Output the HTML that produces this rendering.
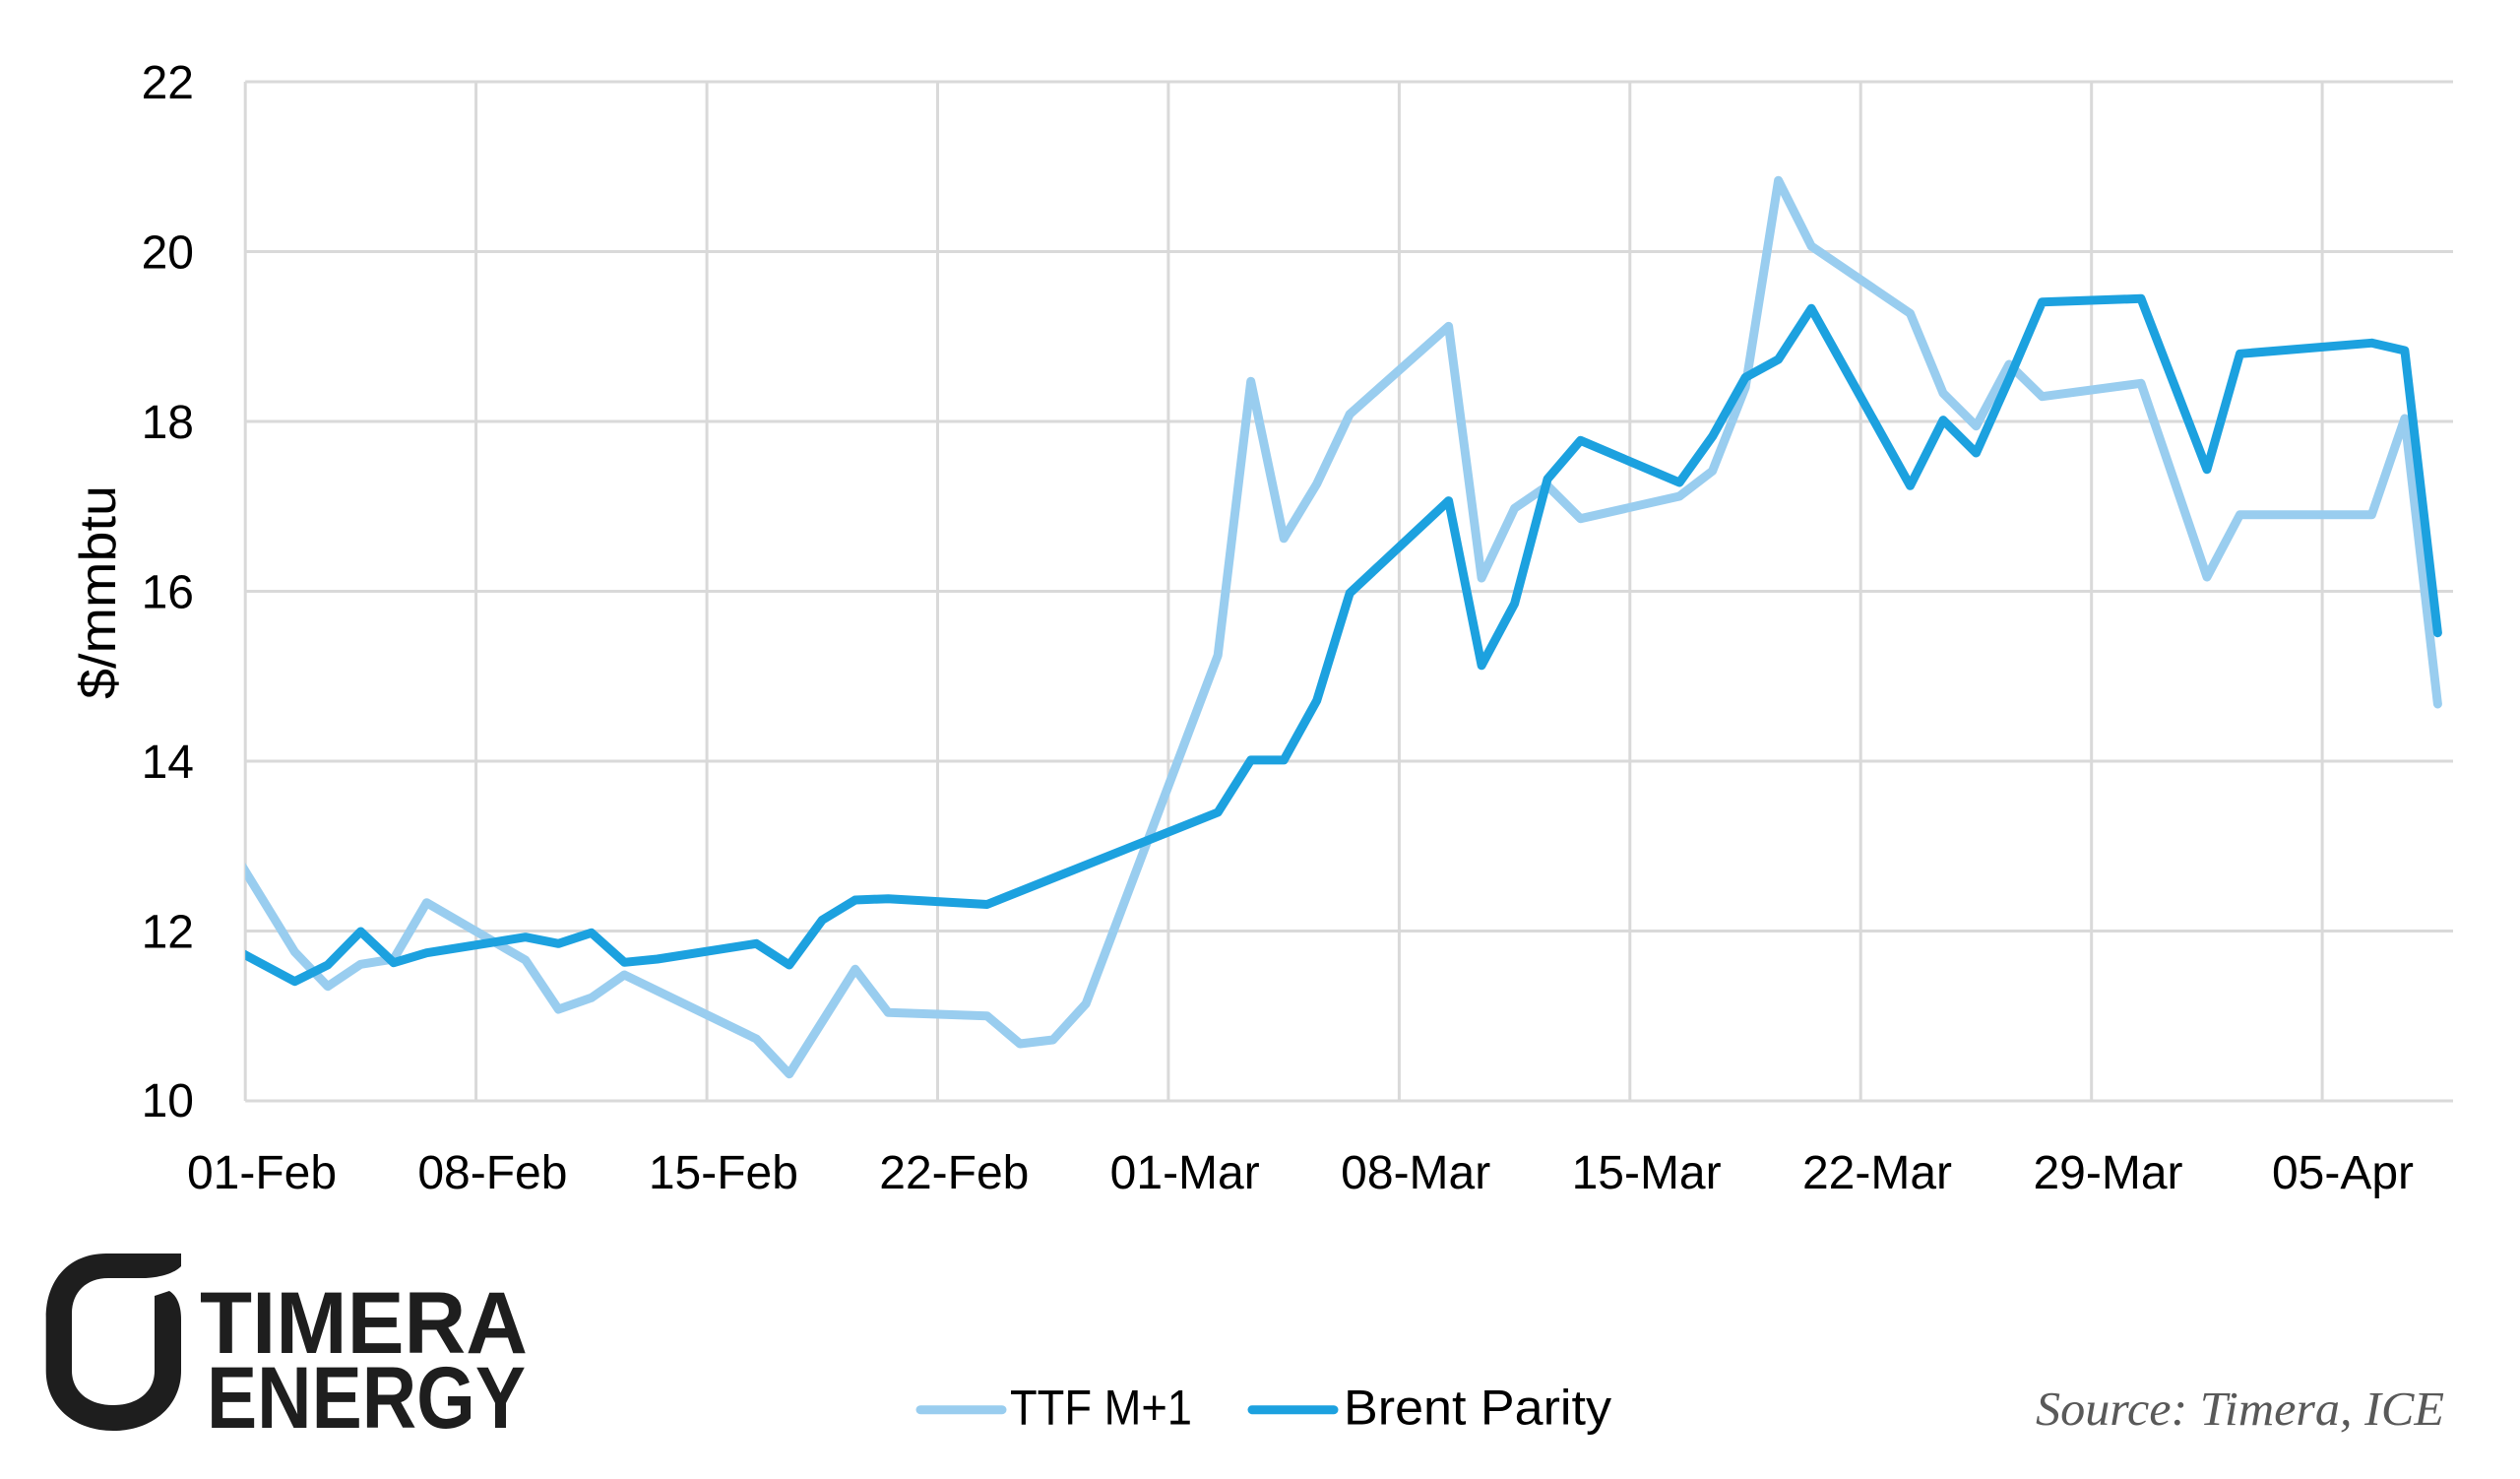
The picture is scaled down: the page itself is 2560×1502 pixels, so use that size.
<!DOCTYPE html>
<html>
<head>
<meta charset="utf-8">
<style>
  html, body { margin: 0; padding: 0; background: #ffffff; }
  body { width: 2560px; height: 1502px; overflow: hidden; }
  svg { display: block; }
</style>
</head>
<body>
<svg width="2560" height="1502" viewBox="0 0 2560 1502" xmlns="http://www.w3.org/2000/svg">
  <rect x="0" y="0" width="2560" height="1502" fill="#ffffff"/>
  <defs>
    <clipPath id="plot">
      <rect x="249.2" y="0" width="2300" height="1200"/>
    </clipPath>
  </defs>

  <!-- horizontal gridlines -->
  <g stroke="#d9d9d9" stroke-width="3" fill="none">
    <line x1="249.2" y1="83" x2="2492" y2="83"/>
    <line x1="249.2" y1="255.5" x2="2492" y2="255.5"/>
    <line x1="249.2" y1="428" x2="2492" y2="428"/>
    <line x1="249.2" y1="600.5" x2="2492" y2="600.5"/>
    <line x1="249.2" y1="773" x2="2492" y2="773"/>
    <line x1="249.2" y1="945.5" x2="2492" y2="945.5"/>
    <line x1="249.2" y1="1118" x2="2492" y2="1118"/>
    <!-- vertical gridlines -->
    <line x1="249.2" y1="83" x2="249.2" y2="1118"/>
    <line x1="483.6" y1="83" x2="483.6" y2="1118"/>
    <line x1="718.1" y1="83" x2="718.1" y2="1118"/>
    <line x1="952.5" y1="83" x2="952.5" y2="1118"/>
    <line x1="1186.9" y1="83" x2="1186.9" y2="1118"/>
    <line x1="1421.4" y1="83" x2="1421.4" y2="1118"/>
    <line x1="1655.8" y1="83" x2="1655.8" y2="1118"/>
    <line x1="1890.2" y1="83" x2="1890.2" y2="1118"/>
    <line x1="2124.7" y1="83" x2="2124.7" y2="1118"/>
    <line x1="2359.1" y1="83" x2="2359.1" y2="1118"/>
  </g>

  <!-- series -->
  <g clip-path="url(#plot)" fill="none" stroke-width="9" stroke-linejoin="round" stroke-linecap="round">
    <polyline stroke="#99CDEF" points="199,803 299.4,966.7 332.9,1001.7 366.4,979.3 399.9,974 433.4,916.7 533.8,975 567.3,1025 600.8,1013.3 634.3,990 768.3,1055 801.8,1090.7 868.8,984.3 902.3,1028.3 1002.7,1031.7 1036.2,1060 1069.7,1056 1103.2,1019.3 1237.2,665.5 1270.7,387.3 1304.2,546.8 1337.7,491.4 1371.2,420.6 1471.6,331.4 1505.1,587 1538.6,516.2 1572.1,493.3 1605.6,526.7 1706.1,504 1739.6,478.3 1773.1,393.3 1806.6,183.3 1840.1,250 1940.5,318.3 1974,399.3 2007.5,432.7 2041,370 2074.5,402.7 2175,389.3 2242,586 2275.5,522.7 2409.4,522.7 2442.9,425 2476.4,715"/>
    <polyline stroke="#1CA1DF" points="199,943 299.4,996.7 332.9,980 366.4,946 399.9,977.7 433.4,967.7 533.8,951.7 567.3,958.3 600.8,947.3 634.3,977.3 667.8,974 768.3,958.3 801.8,980 835.3,934.3 868.8,914 902.3,912.7 1002.7,918.5 1237.2,825 1270.7,771.9 1304.2,771.9 1337.7,711.4 1371.2,602.3 1471.6,508.6 1505.1,675.8 1538.6,613 1572.1,486.4 1605.6,447.3 1706.1,490 1739.6,443.3 1773.1,383.3 1806.6,365 1840.1,313.3 1940.5,493.3 1974,426.7 2007.5,460 2041,385 2074.5,306.7 2175,303.3 2242,476.7 2275.5,359.3 2409.4,348.3 2442.9,356 2476.4,642.7"/>
  </g>

  <!-- y tick labels -->
  <g font-family="'Liberation Sans', sans-serif" font-size="48" fill="#000000" text-anchor="end">
    <text x="197" y="100">22</text>
    <text x="197" y="272.5">20</text>
    <text x="197" y="445">18</text>
    <text x="197" y="617.5">16</text>
    <text x="197" y="790">14</text>
    <text x="197" y="962.5">12</text>
    <text x="197" y="1134">10</text>
  </g>

  <!-- y axis title -->
  <text transform="translate(117,601.5) rotate(-90)" text-anchor="middle" font-family="'Liberation Sans', sans-serif" font-size="52" fill="#000000" textLength="217" lengthAdjust="spacingAndGlyphs">$/mmbtu</text>

  <!-- x tick labels -->
  <g font-family="'Liberation Sans', sans-serif" font-size="48" fill="#000000" text-anchor="middle">
    <text x="266" y="1207">01-Feb</text>
    <text x="500.4" y="1207">08-Feb</text>
    <text x="734.9" y="1207">15-Feb</text>
    <text x="969.3" y="1207">22-Feb</text>
    <text x="1203.7" y="1207">01-Mar</text>
    <text x="1438.2" y="1207">08-Mar</text>
    <text x="1672.6" y="1207">15-Mar</text>
    <text x="1907" y="1207">22-Mar</text>
    <text x="2141.5" y="1207">29-Mar</text>
    <text x="2380" y="1207">05-Apr</text>
  </g>

  <!-- legend -->
  <line x1="935" y1="1431.7" x2="1018" y2="1431.7" stroke="#99CDEF" stroke-width="9" stroke-linecap="round"/>
  <text x="1026" y="1446.7" font-family="'Liberation Sans', sans-serif" font-size="50" fill="#000000" textLength="185" lengthAdjust="spacingAndGlyphs">TTF M+1</text>
  <line x1="1272" y1="1431.7" x2="1355" y2="1431.7" stroke="#1CA1DF" stroke-width="9" stroke-linecap="round"/>
  <text x="1365" y="1446.7" font-family="'Liberation Sans', sans-serif" font-size="50" fill="#000000" textLength="272" lengthAdjust="spacingAndGlyphs">Brent Parity</text>

  <!-- source -->
  <text x="2068" y="1447" font-family="'Liberation Serif', serif" font-style="italic" font-size="49" fill="#595959" textLength="415" lengthAdjust="spacingAndGlyphs">Source: Timera, ICE</text>

  <!-- logo -->
  <path fill="#1e1e1e" d="M 184 1273 L 108 1273 C 70 1273 46.7 1300 46.7 1338 L 46.7 1392 C 46.7 1428 75 1453 115 1453 C 155 1453 184 1428 184 1392 L 184 1340 C 184 1326 180 1316 172 1311 L 157 1316 L 157 1392 C 157 1413 140 1427 115 1427 C 90 1427 73 1413 73 1392 L 73 1334 C 73 1312 88 1298 110 1298 L 148 1298 C 164 1297 177 1293 184 1286 Z"/>
  <text x="203" y="1374" font-family="'Liberation Sans', sans-serif" font-weight="bold" font-size="89" fill="#1e1e1e" textLength="333" lengthAdjust="spacingAndGlyphs">TIMERA</text>
  <text x="210" y="1450" font-family="'Liberation Sans', sans-serif" font-weight="bold" font-size="89" fill="#1e1e1e" textLength="324" lengthAdjust="spacingAndGlyphs">ENERGY</text>
</svg>
</body>
</html>
